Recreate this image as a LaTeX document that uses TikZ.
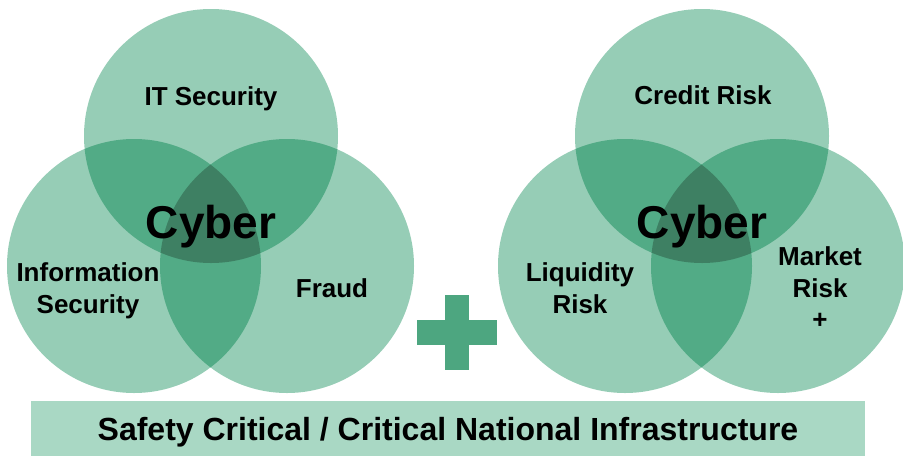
\documentclass[tikz,border=0pt]{standalone}
\usepackage{fontspec}
\setmainfont{Liberation Sans}
\usepackage{tikz}
\definecolor{vennone}{HTML}{96CDB6}
\definecolor{venntwo}{HTML}{52AB86}
\definecolor{vennthree}{HTML}{3E8063}
\definecolor{bannerfill}{HTML}{A9D8C4}
\definecolor{plusfill}{HTML}{4DA680}
\tikzset{
    x=1pt, y=-1pt, % pixel-like coordinates, y downwards
    ring/.style={ % one circle of a Venn diagram
        circle,
        fill=vennone,
        inner sep=0pt,
        minimum size=254pt
    },
    lbl/.style={ % label of a circle
        font=\fontsize{26}{31.5}\selectfont\bfseries,
        align=center
    },
    core/.style={ % the common centre
        font=\fontsize{46}{50}\selectfont\bfseries
    },
    banner/.style={
        fill=bannerfill,
        minimum width=834pt,
        minimum height=55pt,
        text depth=0pt,
        font=\fontsize{32}{34}\selectfont\bfseries
    }
}

\begin{document}
\begin{tikzpicture}
    \useasboundingbox (0,0) rectangle (903,456);

    % left diagram
    \node[ring] (la) at (211,136) {};
    \node[ring] (lb) at (134,266) {};
    \node[ring] (lc) at (287,266) {};
    % right diagram
    \node[ring] (ra) at (702,136) {};
    \node[ring] (rb) at (625,266) {};
    \node[ring] (rc) at (778,266) {};

    % overlaps
    \foreach \v in {l,r} {
        \begin{scope}
            \clip (\v a.center) circle (127pt);
            \fill[venntwo] (\v b.center) circle (127pt);
            \fill[venntwo] (\v c.center) circle (127pt);
        \end{scope}
        \begin{scope}
            \clip (\v b.center) circle (127pt);
            \fill[venntwo] (\v c.center) circle (127pt);
        \end{scope}
        \begin{scope}
            \clip (\v a.center) circle (127pt);
            \clip (\v b.center) circle (127pt);
            \fill[vennthree] (\v c.center) circle (127pt);
        \end{scope}
    }

    \node[lbl] (itsec) at (211,99) {IT Security};
    \node[lbl] (infosec) at (88,291) {Information\\Security};
    \node[lbl] (fraud) at (332,288.5) {Fraud};
    \node[core] (lcyber) at (211,227) {Cyber};

    \node[lbl] (credit) at (703,95.5) {Credit Risk};
    \node[lbl] (liquid) at (580,288) {Liquidity\\Risk};
    \node[lbl] (market) at (820,288) {Market\\Risk\\+};
    \node[core] (rcyber) at (702,227) {Cyber};

    % plus sign
    \fill[plusfill] (445,295) rectangle (469,370);
    \fill[plusfill] (417,320) rectangle (497,345);

    \node[banner] (cni) at (448,428.5) {Safety Critical / Critical National Infrastructure};
\end{tikzpicture}
\end{document}
